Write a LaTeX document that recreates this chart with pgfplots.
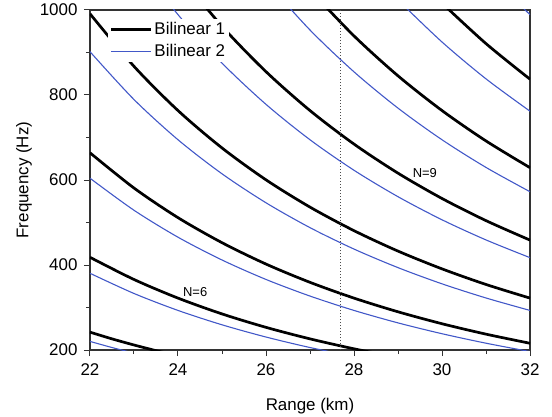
\documentclass[border=0pt]{standalone}
\usepackage{fontspec}
\setmainfont{Liberation Sans}
\usepackage{pgfplots}
\pgfplotsset{compat=1.18}
\definecolor{blueline}{RGB}{66,88,200}
\pgfplotsset{longline/.style={legend image code/.code={\draw[##1] (0bp,0bp) -- (40bp,0bp);}}}
\begin{document}
\begin{tikzpicture}
\useasboundingbox (-90bp,-67bp) rectangle (462bp,350bp);
\begin{axis}[
  at={(0,0)}, anchor=south west,
  scale only axis, width=440bp, height=340bp,
  xmin=22, xmax=32, ymin=200, ymax=1000,
  xtick={22,24,...,32}, minor xtick={23,25,...,31},
  ytick={200,400,...,1000}, minor ytick={300,500,700,900},
  tick align=outside, xtick pos=bottom, ytick pos=left,
  major tick length=6bp, minor tick length=4bp,
  tick style={black!80, line width=1bp},
  axis line style={black!80, line width=1.2bp},
  font=\fontsize{17}{20}\selectfont,
  /pgf/number format/assume math mode=true,
  /pgf/number format/1000 sep={},
  xticklabel style={yshift=-4bp},
  yticklabel style={xshift=-3bp},
  xlabel={Range (km)}, ylabel={Frequency (Hz)},
  xlabel style={at={(axis description cs:0.5,-0.165)}, anchor=center},
  ylabel style={at={(axis description cs:-0.15,0.5)}, anchor=center},
  legend style={at={(axis description cs:0.04,0.975)}, anchor=north west,
    draw=none, fill=white, inner sep=2bp, row sep=4bp,
    font=\fontsize{17}{20}\selectfont},
  legend cell align=left,
]
% Bilinear 1 (black), modes N=5..11
\addplot[black, line width=2.7bp, smooth, longline] coordinates {
  (22,242.0) (22.5,226.2) (23,211.8) (23.5,198.5) (24,186.4)};
\addlegendentry{Bilinear 1}
\addplot[blueline, line width=1.1bp, smooth, longline] coordinates {
  (22,220.2) (22.5,205.8) (23,192.7) (23.5,180.6)};
\addlegendentry{Bilinear 2}

\addplot[black, line width=2.7bp, smooth, forget plot] coordinates {
  (22,418.1) (23,365.9) (24,322.1) (25,284.9) (26,253.3) (27,226.2) (28,202.8) (29,182.5)};
\addplot[black, line width=2.7bp, smooth, forget plot] coordinates {
  (22,664.0) (23,581.1) (24,511.4) (25,452.5) (26,402.2) (27,359.2) (28,322.1) (29,289.9) (30,261.8) (31,237.3) (32,215.8)};
\addplot[black, line width=2.7bp, smooth, forget plot] coordinates {
  (22,991.1) (23,867.4) (24,763.4) (25,675.4) (26,600.4) (27,536.2) (28,480.8) (29,432.7) (30,390.9) (31,354.2) (32,322.1)};
\addplot[black, line width=2.7bp, smooth, forget plot] coordinates {
  (24,1087.0) (25,961.7) (26,854.9) (27,763.4) (28,684.5) (29,616.1) (30,556.5) (31,504.4) (32,458.6)};
\addplot[black, line width=2.7bp, smooth, forget plot] coordinates {
  (27,1047.2) (28,939.0) (29,845.1) (30,763.4) (31,691.9) (32,629.0)};
\addplot[black, line width=2.7bp, smooth, forget plot] coordinates {
  (30,1016.1) (31,920.9) (32,837.2)};

% Bilinear 2 (blue), modes N=6..12
\addplot[blueline, line width=1.1bp, smooth, forget plot] coordinates {
  (22,380.5) (23,333.0) (24,293.1) (25,259.3) (26,230.5) (27,205.8) (28,184.6)};
\addplot[blueline, line width=1.1bp, smooth, forget plot] coordinates {
  (22,604.2) (23,528.8) (24,465.4) (25,411.8) (26,366.0) (27,326.9) (28,293.1) (29,263.8) (30,238.3) (31,216.0) (32,196.3)};
\addplot[blueline, line width=1.1bp, smooth, forget plot] coordinates {
  (22,901.9) (23,789.3) (24,694.7) (25,614.6) (26,546.4) (27,487.9) (28,437.5) (29,393.8) (30,355.7) (31,322.4) (32,293.1)};
\addplot[blueline, line width=1.1bp, smooth, forget plot] coordinates {
  (23,1123.9) (24,989.1) (25,875.1) (26,778.0) (27,694.7) (28,622.9) (29,560.7) (30,506.4) (31,459.0) (32,417.3)};
\addplot[blueline, line width=1.1bp, smooth, forget plot] coordinates {
  (26,1067.2) (27,952.9) (28,854.5) (29,769.1) (30,694.7) (31,629.6) (32,572.4)};
\addplot[blueline, line width=1.1bp, smooth, forget plot] coordinates {
  (29,1023.6) (30,924.7) (31,838.0) (32,761.9)};
\addplot[blueline, line width=1.1bp, smooth, forget plot] coordinates {
  (31,1088.0) (32,989.1)};

% reference range
\addplot[black!70, line width=0.9bp, dash pattern=on 1.2bp off 1.8bp, forget plot] coordinates {
  (27.7,200) (27.7,1000)};

\node[font=\fontsize{13}{15}\selectfont] at (axis cs:24.39,336) {N=6};
\node[font=\fontsize{13}{15}\selectfont] at (axis cs:29.61,617) {N=9};
\end{axis}
\end{tikzpicture}
\end{document}
